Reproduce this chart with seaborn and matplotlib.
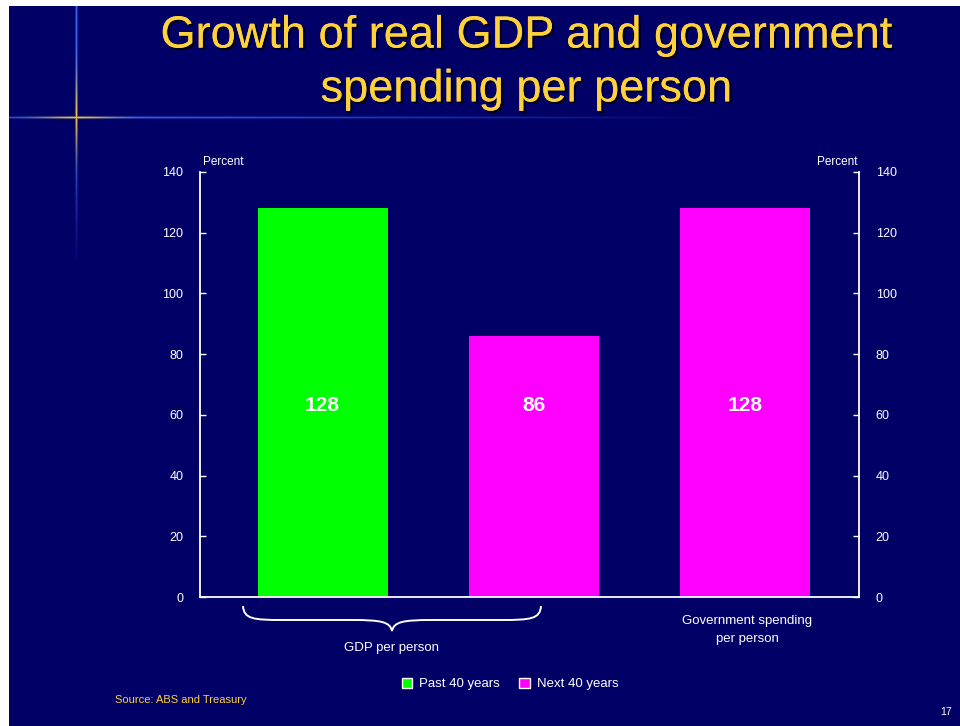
import matplotlib
matplotlib.use("Agg")
import matplotlib.pyplot as plt
import matplotlib.patheffects as pe
from matplotlib.path import Path
from matplotlib.patches import PathPatch, Patch
import seaborn as sns
import pandas as pd
import numpy as np

# ---- data ----
bar_keys = ["GDP past", "GDP next", "Gov"]
periods = ["Past 40 years", "Next 40 years", "Next 40 years"]
values = [128, 86, 128]
yticks = [0, 20, 40, 60, 80, 100, 120, 140]
title = "Growth of real GDP and government\nspending per person"
group_labels = ["GDP per person", "Government spending\nper person"]
source = "Source: ABS and Treasury"
page = "17"

BG = "#000066"
YEL = "#FFD23C"
palette = {"Past 40 years": "#00FF00", "Next 40 years": "#FF00FF"}

sns.set_theme(style="dark")
plt.rcParams["font.family"] = ["Liberation Sans", "DejaVu Sans"]

df = pd.DataFrame({"key": bar_keys, "period": periods, "value": values})

W, H = 960, 726
fig = plt.figure(figsize=(9.6, 7.26), dpi=100, facecolor="white")

def fx(px):
    return px / W

def fy(py):
    return 1 - py / H

# slide background (small white border top/left as in reference)
bg = fig.add_axes([fx(9), 0, 1 - fx(9), fy(6)])
bg.set_facecolor(BG)
bg.axis("off")

# decorative star (gradient image)
sx, sy = 76, 117
gx = np.arange(9, W)
gy = np.arange(6, H)
X, Y = np.meshgrid(gx, gy)
bgc = np.array([0, 0, 102]) / 255.0
blue = np.array([60, 110, 255]) / 255.0
gold = np.array([255, 215, 80]) / 255.0
img = np.tile(bgc, (len(gy), len(gx), 1))
hprof = np.exp(-(Y - sy) ** 2 / 1.2) * np.clip(1 - (X - sx).clip(0) / 650, 0, 1) * np.clip(1 - (sx - X).clip(0) / 200, 0, 1)
vprof = np.exp(-(X - sx) ** 2 / 1.2) * np.clip(1 - (Y - sy).clip(0) / 150, 0, 1)
beam = np.clip(np.maximum(hprof * 0.9, vprof * 0.9), 0, 1)
goldw = np.exp(-((X - sx) ** 2 + (Y - sy) ** 2) / (2 * 28 ** 2))
col = blue[None, None, :] * (1 - goldw[..., None]) + gold[None, None, :] * goldw[..., None]
img = img * (1 - beam[..., None]) + col * beam[..., None]
bg.imshow(img, extent=(9, W, H, 6), aspect="auto", interpolation="bilinear", zorder=0)
bg.set_xlim(9, W)
bg.set_ylim(H, 6)

# main axes
L, R, T, B = 200, 859, 172, 597
ax = fig.add_axes([fx(L), fy(B), fx(R - L), fy(T) - fy(B)])
ax.set_facecolor("none")
sns.barplot(data=df, x="key", y="value", hue="period", palette=palette,
            dodge=False, width=0.616, saturation=1, ax=ax, legend=False,
            order=bar_keys, linewidth=0)
ax.set_xlim(-0.581, 2.542)
ax.set_ylim(0, 140)
ax.set_xlabel("")
ax.set_ylabel("")
ax.set_xticks([])
ax.set_xticks([0.34, 1.25], minor=True)
ax.tick_params(axis="x", which="minor", direction="in", length=5, color="white", width=1)
ax.set_yticks(yticks)
ax.set_yticklabels([str(t) for t in yticks], color="white", fontsize=9)
ax.tick_params(axis="y", direction="in", length=4, color="white", width=1, pad=12, left=True)
ax.grid(False)
for s in ["left", "bottom"]:
    ax.spines[s].set_visible(True)
    ax.spines[s].set_color("white")
    ax.spines[s].set_linewidth(1.3)
ax.spines["top"].set_visible(False)
ax.spines["right"].set_visible(False)

ax2 = ax.twinx()
ax2.set_ylim(0, 140)
ax2.set_yticks(yticks)
ax2.set_yticklabels([str(t) for t in yticks], color="white", fontsize=9)
ax2.tick_params(axis="y", direction="in", length=4, color="white", width=1, pad=12, right=True)
ax2.grid(False)
for s in ["left", "bottom", "top"]:
    ax2.spines[s].set_visible(False)
ax2.spines["right"].set_visible(True)
ax2.spines["right"].set_color("white")
ax2.spines["right"].set_linewidth(1.3)

# value labels
for i, v in enumerate(values):
    ax.text(i, 63, str(v), ha="center", va="center", color="white",
            fontsize=15, fontweight="bold")

# "Percent" labels
fig.text(fx(203), fy(162), "Percent", color="white", fontsize=8.5, ha="left", va="center")
fig.text(fx(857), fy(162), "Percent", color="white", fontsize=8.5, ha="right", va="center")

# brace under GDP bars
x0, x1, xm = 243, 541, 392
yt, ymid, yb = 606, 620, 631
verts = [
    (x0, yt),
    (x0 + 1, ymid - 1), (x0 + 10, ymid), (x0 + 40, ymid),
    (xm - 40, ymid),
    (xm - 10, ymid), (xm - 2, ymid + 2), (xm, yb),
    (xm + 2, ymid + 2), (xm + 10, ymid), (xm + 40, ymid),
    (x1 - 40, ymid),
    (x1 - 10, ymid), (x1 - 1, ymid - 1), (x1, yt),
]
codes = [Path.MOVETO,
         Path.CURVE4, Path.CURVE4, Path.CURVE4,
         Path.LINETO,
         Path.CURVE4, Path.CURVE4, Path.CURVE4,
         Path.CURVE4, Path.CURVE4, Path.CURVE4,
         Path.LINETO,
         Path.CURVE4, Path.CURVE4, Path.CURVE4]
bg.add_patch(PathPatch(Path(verts, codes), fill=False, edgecolor="white", lw=1.4))

bg.text(xm, 648, group_labels[0], color="white", fontsize=9.5, ha="center", va="center")
bg.text(747, 630, group_labels[1], color="white", fontsize=9.5, ha="center", va="center",
        linespacing=1.6)

# title
tt = fig.text(fx(526), fy(63), title, color=YEL, fontsize=32.5, ha="center", va="center",
              linespacing=1.4)
tt.set_path_effects([pe.withSimplePatchShadow(offset=(1.5, -1.5), shadow_rgbFace="black", alpha=0.9),
                     pe.Normal()])

# legend
handles = [Patch(facecolor=palette["Past 40 years"], label="Past 40 years"),
           Patch(facecolor=palette["Next 40 years"], label="Next 40 years")]
leg = fig.legend(handles=handles, loc="center", bbox_to_anchor=(fx(510), fy(684)), ncol=2,
                 frameon=False, fontsize=9.5, handlelength=0.8, handleheight=0.8,
                 handletextpad=0.5, columnspacing=1.5)
for t in leg.get_texts():
    t.set_color("white")

fig.text(fx(115), fy(700), source, color=YEL, fontsize=8, ha="left", va="center")
fig.text(fx(952), fy(712), page, color="white", fontsize=7.5, ha="right", va="center")

fig.savefig("out.png", dpi=100, facecolor="white")
